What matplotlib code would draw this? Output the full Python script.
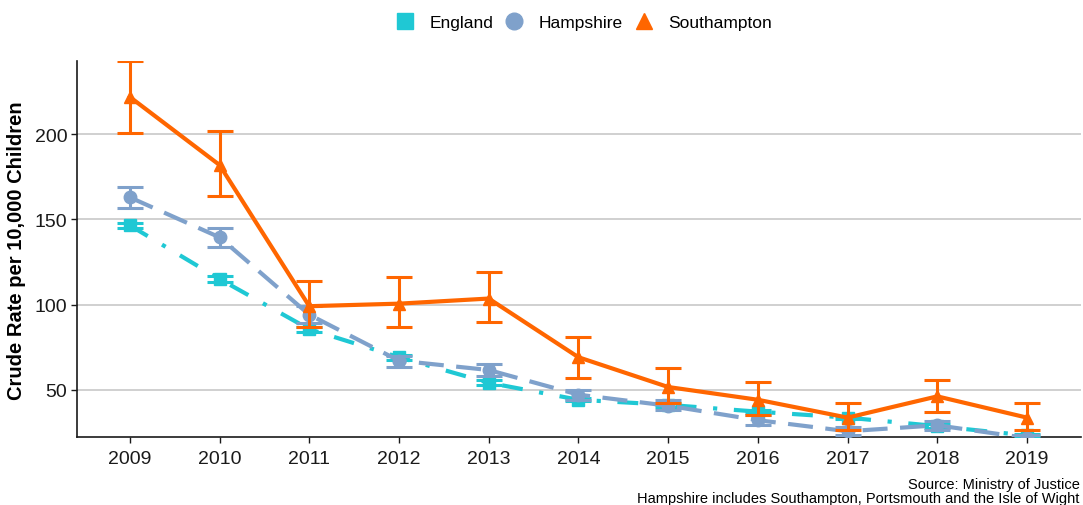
import matplotlib
matplotlib.use("Agg")
import matplotlib.pyplot as plt
from matplotlib.lines import Line2D

plt.rcParams['font.family'] = ['Liberation Sans', 'DejaVu Sans']

years = [2009, 2010, 2011, 2012, 2013, 2014, 2015, 2016, 2017, 2018, 2019]

# England
eng = [146.5, 115, 85.5, 69, 54, 44, 41, 37, 33.5, 28.5, 23]
eng_lo = [145, 113, 84, 67.5, 52.5, 43, 40, 36, 32.5, 27.5, 22]
eng_hi = [148, 117, 87, 70.5, 55.5, 45, 42, 38, 34.5, 29.5, 24]

# Hampshire
ham = [163, 139.5, 94, 67, 61.5, 47, 40.5, 32, 25.5, 29, 21.5]
ham_lo = [157, 134, 89, 63, 58, 44, 38, 29, 23, 26.5, 19]
ham_hi = [169, 145, 99, 70, 65, 50, 44, 35, 28, 31.5, 23]

# Southampton
sou = [222, 182, 99, 100.5, 103.5, 69, 51.5, 44, 33.5, 46, 33.5]
sou_lo = [201, 164, 87, 87, 90, 57, 42, 35, 26.5, 37, 26]
sou_hi = [243, 202, 114, 116, 119, 81, 62.5, 54.5, 42, 55.5, 42]

series_names = ["England", "Hampshire", "Southampton"]
colors = ["#1fc8d4", "#7fa1cb", "#ff6600"]
markers = ["s", "o", "^"]

fig = plt.figure(figsize=(10.83, 5.06), dpi=100)
ax = fig.add_axes([0.071, 0.134, 0.927, 0.743])

ax.grid(axis="y", color="#c8c8c8", linewidth=1.2)
ax.set_axisbelow(True)

data = [(eng, eng_lo, eng_hi), (ham, ham_lo, ham_hi), (sou, sou_lo, sou_hi)]
styles = [(0, (5, 4, 1, 4)), (0, (6, 3)), "-"]
zs = [3, 4, 5]
for (vals, lo, hi), c, m, ls, z in zip(data, colors, markers, styles, zs):
    yerr = [[v - l for v, l in zip(vals, lo)], [h - v for v, h in zip(vals, hi)]]
    ax.errorbar(years, vals, yerr=yerr, fmt="none", ecolor=c, elinewidth=2.2,
                capsize=9.5, capthick=2.2, zorder=z)
    ax.plot(years, vals, color=c, linestyle=ls, linewidth=3, marker=m,
            markersize=9, zorder=z)

ax.set_xlim(2008.41, 2019.6)
ax.set_ylim(22, 243)
ax.set_xticks(years)
ax.set_yticks([50, 100, 150, 200])
ax.tick_params(axis="both", labelsize=14, colors="#1a1a1a", length=4, width=1)
ax.tick_params(axis="x", pad=5)
ax.tick_params(axis="y", pad=3)
ax.set_ylabel("Crude Rate per 10,000 Children", fontsize=14.5, fontweight="bold",
              labelpad=6)

for s in ["top", "right"]:
    ax.spines[s].set_visible(False)
for s in ["left", "bottom"]:
    ax.spines[s].set_color("#1a1a1a")
    ax.spines[s].set_linewidth(1.2)

handles = [Line2D([0], [0], color=c, marker=m, linestyle="none", markersize=12)
           for c, m in zip(colors, markers)]
fig.legend(handles, series_names, loc="upper center", bbox_to_anchor=(0.537, 1.0),
           ncol=3, frameon=False, fontsize=12.5, handletextpad=0.6, columnspacing=0.4,
           handlelength=1.6)

fig.text(0.997, 0.042, "Source: Ministry of Justice", ha="right", va="center",
         fontsize=10.5)
fig.text(0.997, 0.013, "Hampshire includes Southampton, Portsmouth and the Isle of Wight",
         ha="right", va="center", fontsize=10.5)

fig.savefig("out.png", dpi=100)
